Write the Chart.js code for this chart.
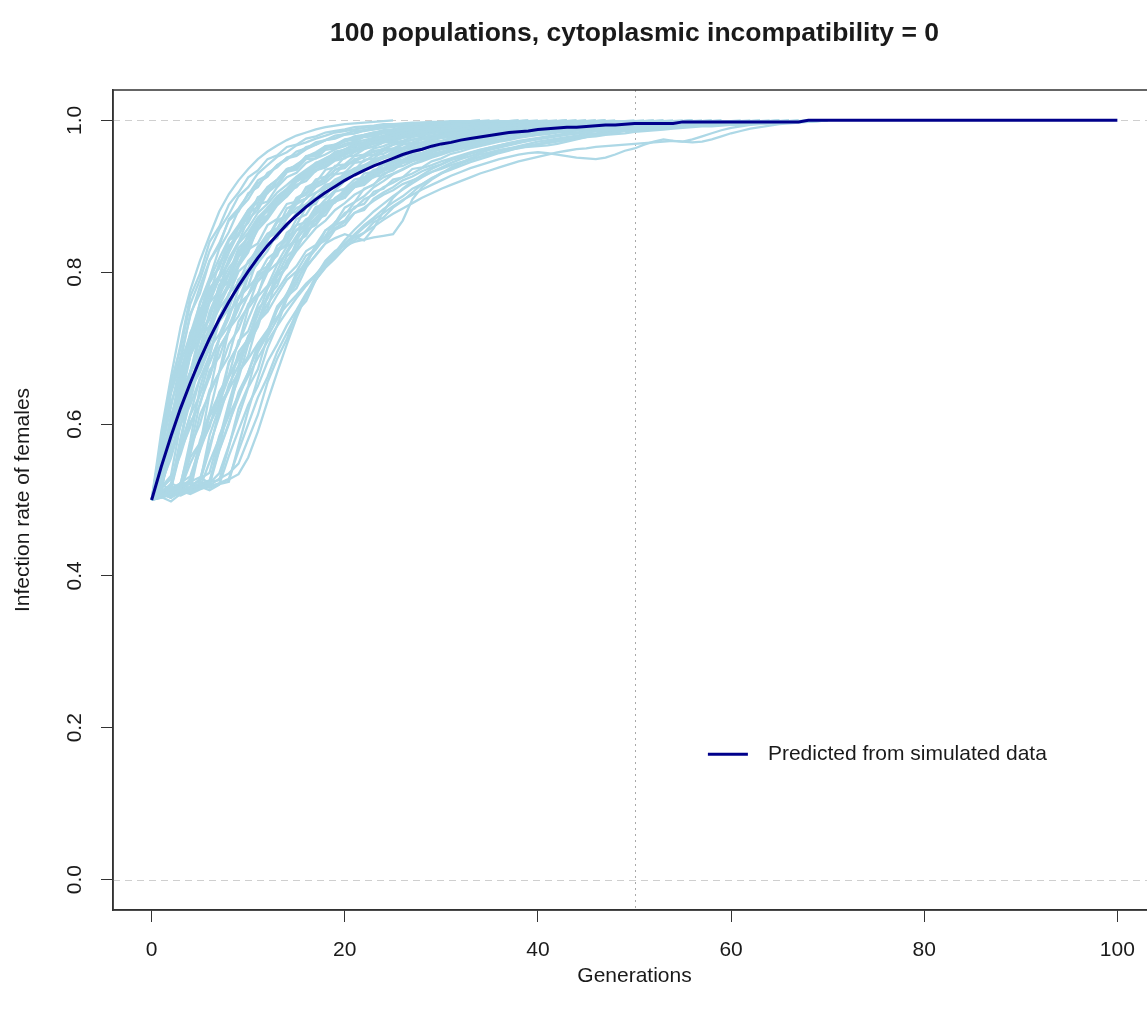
<!DOCTYPE html>
<html>
<head>
<meta charset="utf-8">
<script src="https://cdn.jsdelivr.net/npm/chart.js@4.4.1/dist/chart.umd.min.js"></script>
<style>
  html, body { margin: 0; padding: 0; background: #fff; overflow: hidden; }
  #wrap { position: relative; width: 1200px; height: 1015px; }
</style>
</head>
<body>
<div id="wrap"><canvas id="myChart" width="1200" height="1015"></canvas></div>
<script>
// infection rate of females x 1000, one value per generation starting at 0
const predicted = [
  500,544,584,621,654,685,713,738,761,782,801,819,835,849,863,875,886,896,905,913,
  921,928,934,940,945,950,955,959,962,966,969,971,974,976,978,980,982,984,985,986,
  988,989,990,991,991,992,993,994,994,995,996,996,996,996,996,998,998,998,998,998,
  998,998,998,998,998,998,998,998,1000,1000,1000,1000,1000,1000,1000,1000,1000,1000,1000,1000,
  1000,1000,1000,1000,1000,1000,1000,1000,1000,1000,1000,1000,1000,1000,1000,1000,1000,1000,1000,1000,1000
];

const pop01 = [500,590,662,728,776,815,848,880,903,921,936,949,959,967,974,980,984,988,991,993,995,996,997,998,999,1000];
const pop02 = [500,575,648,705,768,798,840,860,889,905,925,934,949,954,965,968,976,979,984,986,988,991,992,993,995,995,996,997,997,998,998,999,999,999,1000];
const pop03 = [500,570,645,690,742,781,815,838,868,880,904,912,931,938,951,955,965,968,974,977,982,983,987,988,990,992,993,994,995,996,996,997,997,998,998,999,999,999,1000];
const pop04 = [500,515,588,661,708,760,792,831,853,882,896,917,926,941,948,959,963,971,974,980,982,986,987,990,991,993,994,995,996,997,997,998,998,999,999,1000];
const pop05 = [500,560,628,665,720,745,790,805,842,850,880,885,909,914,932,935,949,950,961,963,969,972,978,979,983,984,987,988,990,991,992,993,994,995,996,996,997,997,998,998,998,999,999,999,1000];
const pop06 = [500,510,582,630,690,728,775,795,835,848,878,886,910,916,934,937,952,953,964,965,974,974,980,981,986,986,990,990,992,993,994,995,996,996,997,997,998,998,998,999,999,1000];
const pop07 = [500,548,610,640,690,716,760,775,800,822,838,866,873,890,900,915,920,934,938,947,950,958,963,965,971,972,977,979,981,983,986,987,988,990,991,992,992,993,994,995,995,996,996,997,997,997,998,998,998,999,999,999,1000];
const pop08 = [500,506,514,578,650,695,748,778,818,840,870,882,905,915,932,938,953,955,966,968,975,977,981,984,987,988,991,992,993,994,995,996,996,997,997,998,998,999,999,1000];
const pop09 = [500,512,575,615,670,700,745,768,797,826,840,860,885,890,905,920,926,940,944,953,958,961,968,970,975,977,980,982,985,986,988,990,991,992,993,994,995,995,996,996,997,997,998,998,998,999,999,999,1000];
const pop10 = [500,545,588,640,668,712,730,766,780,808,830,838,862,870,890,893,910,914,926,930,941,945,953,955,961,963,969,970,975,976,980,981,984,985,987,988,989,990,991,992,993,994,994,995,995,996,996,997,997,997,998,998,998,999,999,999,1000];
const pop11 = [500,509,520,575,640,676,718,762,786,820,835,866,875,898,907,924,929,942,946,956,958,967,969,975,976,981,983,985,987,989,990,991,992,993,994,995,996,996,997,997,998,998,998,999,999,1000];
const pop12 = [500,518,560,612,650,680,718,738,772,786,815,828,846,866,874,892,897,912,918,929,931,944,946,954,956,962,964,970,971,976,977,979,981,983,985,987,988,989,990,991,992,993,994,995,995,996,996,997,997,997,998,998,998,999,999,999,1000];
const pop13 = [500,505,510,520,578,648,690,740,770,808,826,860,872,896,905,924,930,944,947,959,961,970,971,977,978,983,984,987,989,990,992,993,994,995,995,996,997,997,998,998,998,999,999,1000];
const pop14 = [500,538,580,608,645,668,700,718,745,766,780,795,818,828,846,855,870,876,889,896,906,912,922,925,933,938,944,947,952,956,959,962,965,968,971,973,975,977,979,981,983,984,985,987,988,989,990,991,991,992,993,993,994,995,995,995,996,996,997,997,997,998,998,998,999,999,999,1000];
const pop15 = [500,505,515,572,612,660,690,735,752,790,805,834,845,868,875,896,902,918,922,935,937,949,951,960,961,968,970,975,976,980,981,983,985,987,988,990,991,992,993,994,994,995,995,996,996,997,997,997,998,998,998,999,999,999,1000];
const pop16 = [500,510,503,515,568,628,662,712,740,778,796,828,842,866,875,898,905,922,926,940,942,953,955,963,966,971,973,978,980,983,985,986,988,990,991,992,993,994,995,995,996,996,997,997,998,998,998,999,999,999,1000];
const pop17 = [500,522,555,600,625,660,680,712,730,758,770,795,805,828,835,855,860,878,881,896,900,912,915,926,928,937,940,946,950,954,957,961,963,967,969,972,974,976,978,980,982,983,985,986,987,988,989,990,991,992,992,993,994,994,995,995,996,996,996,997,997,997,998,998,998,999,999,999,1000];
const pop18 = [500,504,498,508,512,570,640,668,725,752,795,812,845,856,884,890,912,918,935,938,952,954,962,966,971,974,977,981,983,985,987,989,990,991,992,993,994,995,996,996,997,997,998,998,998,999,999,1000];
const pop19 = [500,512,520,565,596,640,662,700,722,755,770,800,808,830,842,862,866,886,890,906,910,922,925,935,937,946,948,955,957,962,965,968,971,974,976,978,980,982,984,985,987,988,989,990,991,992,992,993,994,994,995,995,996,996,997,997,997,998,998,998,999,999,999,1000];
const pop20 = [500,508,512,520,522,578,615,668,690,735,755,790,805,835,846,870,876,896,900,918,922,936,938,949,950,960,962,967,971,974,977,979,982,984,985,987,988,990,991,992,993,993,994,995,995,996,996,997,997,997,998,998,998,999,999,999,1000];
const pop21 = [500,509,515,522,570,600,645,668,705,725,758,772,800,812,834,842,862,868,888,892,908,912,924,926,937,939,948,950,957,959,962,966,969,972,974,976,979,980,982,984,985,987,988,989,990,991,992,993,993,994,995,995,995,996,996,997,997,997,998,998,998,999,999,999,1000];
const pop22 = [500,506,510,508,515,522,585,622,680,705,752,770,810,822,852,862,886,890,912,915,932,934,948,950,960,962,968,971,975,978,980,983,985,987,988,990,991,992,993,994,995,995,996,996,997,997,998,998,998,999,999,999,1000];
const pop23 = [500,505,512,517,521,524,566,618,645,695,712,752,765,800,810,840,848,870,875,895,898,916,918,932,934,944,946,955,957,962,966,969,972,975,978,980,982,984,985,987,988,989,990,991,992,993,994,994,995,995,996,996,997,997,997,998,998,998,999,999,999,1000];
const pop24 = [500,506,509,512,516,520,523,568,625,660,705,728,768,782,815,830,855,864,885,892,910,914,930,932,944,946,956,958,964,967,971,974,977,980,982,984,986,987,989,990,991,992,993,994,994,995,996,996,997,997,997,998,998,998,999,999,999,1000];
const pop25 = [500,510,515,520,525,565,600,628,662,685,715,735,758,776,795,808,828,836,855,862,878,884,896,902,912,918,925,930,937,941,946,950,954,958,961,964,967,970,972,974,976,978,980,982,983,985,986,987,988,989,990,991,992,993,993,994,994,995,995,996,996,997,997,997,998,998,998,999,999,999,1000];
const pop26 = [500,503,508,514,510,516,520,565,600,642,668,705,722,755,770,800,810,835,842,862,868,886,890,906,910,922,925,936,938,946,950,956,959,963,966,969,972,974,977,979,981,982,984,985,987,988,989,990,991,992,993,993,994,994,995,995,996,996,997,997,997,998,998,998,999,999,999,1000];
const pop27 = [500,505,510,513,517,520,524,526,570,620,650,695,718,750,772,795,815,835,848,866,875,892,900,912,920,929,935,942,948,953,958,962,966,969,972,975,978,980,982,984,985,987,988,989,990,991,992,993,994,994,995,995,996,996,997,997,997,998,998,998,999,999,999,1000];
const pop28 = [500,504,507,510,513,516,518,521,524,572,618,660,700,730,765,785,815,830,855,865,885,892,910,915,930,934,944,948,956,959,965,967,971,974,977,980,982,984,986,987,989,990,991,992,993,994,994,995,996,996,997,997,997,998,998,998,999,999,999,1000];
const pop29 = [500,505,508,510,512,515,518,522,527,534,556,590,630,668,705,740,770,795,815,828,835,840,843,846,848,850,868,896,912,922,930,938,944,950,955,958,961,963,964,965,966,967,969,972,975,978,981,983,985,987,989,990,991,992,993,994,995,996,996,997,997,998,998,999,999,1000];
const pop30 = [500,507,512,508,515,518,513,520,558,592,625,650,682,705,730,750,772,790,808,822,838,850,862,872,883,892,900,910,916,924,930,935,940,945,949,953,957,960,964,967,969,972,974,976,978,980,981,983,984,986,987,988,989,990,991,992,992,993,994,994,995,995,996,996,997,997,998,998,999,1000];
const pop31 = [500,504,508,506,512,516,550,581,611,638,663,687,709,729,748,766,782,797,812,825,837,848,859,869,878,887,895,902,909,915,921,927,932,937,941,945,949,952,955,957,958,957,955,953,951,950,949,951,955,960,963,968,972,975,973,972,975,979,983,987,990,992,994,995,996,997,998,999,1000];
const pop32 = [500,506,510,515,548,575,600,625,646,668,686,706,724,741,756,770,785,797,810,821,832,842,852,860,869,877,884,891,898,904,910,915,920,925,930,934,938,942,946,949,952,955,958,960,962,963,965,966,967,968,969,970,971,972,973,972,971,972,975,979,983,986,989,991,993,995,996,997,998,999,1000];
const pop33 = [500,508,503,510,515,520,516,522,528,565,600,635,662,695,720,745,768,790,810,826,842,856,868,880,890,900,909,917,925,932,938,944,949,953,957,961,964,967,970,973,975,977,979,981,983,984,986,987,988,989,990,991,992,993,994,994,995,995,996,996,997,997,998,998,999,999,1000];
const pop34 = [500,503,507,512,508,514,519,580,628,672,712,744,778,802,828,848,866,882,896,908,920,929,938,945,951,957,962,967,971,974,977,980,982,984,986,988,989,990,991,992,993,994,995,996,996,997,997,998,998,999,999,1000];
const pop35 = [500,568,622,680,718,758,790,818,844,862,882,896,912,922,933,942,950,957,963,968,973,977,980,983,985,987,989,990,992,993,994,995,996,996,997,997,998,998,999,999,1000];
const pop36 = [500,520,590,642,690,725,765,792,815,840,858,878,890,905,915,926,935,944,950,957,962,967,971,975,978,981,983,985,987,989,990,991,992,993,994,995,996,996,997,997,998,998,999,999,1000];
const pop37 = [500,552,605,660,690,735,760,792,812,838,852,872,885,900,910,922,930,940,945,953,958,963,967,971,975,978,980,983,985,987,988,990,991,992,993,994,995,995,996,996,997,997,998,998,999,999,1000];
const pop38 = [500,510,518,582,630,682,718,756,782,812,832,856,870,888,900,914,924,934,941,948,954,960,965,969,972,976,979,981,983,985,987,988,990,991,992,993,994,994,995,996,996,997,997,998,998,999,999,1000];
const pop39 = [500,548,600,672,705,751,770,812,830,858,872,899,904,921,936,939,952,958,966,965,973,979,981,984,983,988,990,991,993,992,995,996,996,997,998,998,999,999,1000];
const pop40 = [500,541,612,645,700,738,772,790,783,811,840,868,872,893,907,912,926,935,941,950,956,959,965,970,973,976,981,982,985,987,988,990,992,992,994,995,996,996,997,998,998,999,999,1000];
const pop41 = [500,522,566,598,651,672,705,742,756,790,798,823,845,852,871,885,889,904,915,918,929,937,941,948,953,955,962,964,968,972,973,977,979,981,983,985,986,988,989,990,991,992,993,994,995,995,996,997,997,998,998,999,999,1000];
const pop42 = [500,508,522,516,560,612,640,701,722,768,782,819,838,845,872,890,897,915,921,935,941,947,955,958,963,968,972,974,978,980,983,985,987,988,990,991,992,993,994,995,996,996,997,998,998,999,999,1000];
const pop43 = [500,515,528,560,602,625,671,688,725,742,770,788,801,826,838,856,862,879,892,896,908,917,921,931,935,940,946,951,953,958,962,964,968,971,973,976,978,980,982,983,985,986,988,989,990,991,992,993,994,994,995,996,996,997,997,998,998,999,999,1000];
const pop44 = [500,512,505,523,531,570,596,642,665,710,722,757,780,795,821,832,856,862,880,893,898,912,918,927,935,938,946,952,955,960,963,967,970,973,975,977,979,981,983,985,986,987,989,990,991,992,993,994,994,995,996,996,997,997,998,998,999,999,1000];
const pop45 = [500,506,512,521,515,528,536,584,615,668,690,735,752,795,806,838,851,870,883,898,906,918,925,931,941,946,952,958,961,966,970,973,976,979,981,983,985,987,988,990,991,992,993,994,995,995,996,997,997,998,998,999,999,1000];
const pop46 = [500,510,516,512,524,530,522,535,572,610,648,672,715,738,768,779,806,823,838,856,862,878,882,897,905,912,921,926,933,938,942,948,951,956,959,963,966,968,971,973,976,978,980,982,983,985,986,987,988,990,991,992,992,993,994,995,995,996,996,997,997,998,998,999,999,1000];
const pop47 = [500,562,640,682,745,772,815,835,870,884,902,921,928,941,950,953,962,968,974,976,981,983,986,988,990,991,993,994,995,996,996,997,998,998,999,999,1000];
const pop48 = [500,555,603,665,692,744,779,795,826,851,865,889,893,912,925,931,944,950,955,962,966,971,974,977,980,983,985,987,989,990,991,993,994,994,995,996,997,997,998,998,999,999,1000];
const pop49 = [500,528,581,640,668,721,740,782,806,822,850,866,884,897,902,919,928,933,946,948,957,962,965,970,972,976,979,981,984,985,987,989,990,991,992,993,994,995,995,996,997,997,998,998,999,999,1000];
const pop50 = [500,517,532,600,641,702,725,775,789,827,846,868,882,899,909,925,933,941,950,955,962,965,971,973,977,980,983,985,987,989,990,991,993,994,994,995,996,997,997,998,998,999,999,1000];
const pop51 = [500,505,514,509,518,527,572,610,652,677,716,735,770,788,808,828,843,858,868,882,891,902,909,916,925,930,936,942,946,951,955,959,962,965,968,971,973,976,978,980,981,983,985,986,987,988,990,991,992,992,993,994,995,995,996,996,997,997,998,998,999,999,1000];
const pop52 = [500,511,506,519,556,575,612,640,662,690,708,735,748,770,790,801,822,830,846,858,866,878,885,894,902,908,916,921,926,932,936,941,945,948,952,955,958,961,963,966,968,970,972,974,976,978,979,981,982,983,985,986,987,988,989,990,991,992,992,993,994,994,995,996,996,997,997,998,998,999,1000];
const pop53 = [500,535,592,622,668,690,728,752,770,801,812,832,851,858,876,880,898,905,911,922,928,933,941,944,951,954,959,962,966,969,972,974,976,979,981,982,984,985,987,988,989,990,991,992,993,994,994,995,996,996,997,997,998,998,999,999,1000];
const pop54 = [500,525,575,630,662,716,738,783,798,832,845,870,880,898,906,920,928,938,944,952,957,962,966,970,974,977,980,982,984,986,988,989,990,992,993,994,994,995,996,997,997,998,998,999,999,1000];
const pop55 = [500,578,655,700,758,790,828,856,876,900,912,930,941,952,958,967,971,976,980,984,986,988,990,992,993,994,995,996,997,997,998,998,999,999,1000];
const pop56 = [500,508,503,515,512,522,519,528,535,548,580,612,655,686,712,748,762,790,806,818,832,846,852,866,872,885,894,905,916,923,931,936,943,948,952,956,960,963,966,969,972,974,976,978,980,982,983,985,986,988,989,990,991,992,993,993,994,995,995,996,997,997,998,998,999,999,1000];
const pop57 = [500,509,518,512,528,566,610,632,682,705,738,768,782,810,825,845,858,872,884,896,903,914,920,928,935,941,946,951,955,959,963,966,969,972,975,977,979,981,983,985,986,988,989,990,991,992,993,994,994,995,996,996,997,997,998,998,999,999,1000];
const pop58 = [500,520,514,565,612,638,682,712,748,765,795,812,828,852,860,878,890,898,910,916,926,932,938,944,950,954,958,962,966,969,972,974,977,979,981,983,984,986,987,988,990,991,992,993,993,994,995,995,996,997,997,998,998,999,999,1000];
const pop59 = [500,532,602,648,712,741,786,808,842,858,882,892,912,922,936,940,952,956,964,967,972,976,979,982,985,987,989,990,992,993,994,995,996,996,997,998,998,999,999,1000];
const pop60 = [500,504,510,507,515,521,526,566,602,635,668,700,720,752,768,790,808,822,838,845,850,846,842,858,880,898,910,920,928,936,942,948,953,957,961,964,967,970,973,975,977,979,981,983,984,986,987,988,989,990,991,992,993,994,994,995,995,996,996,997,997,998,998,999,999,1000];

const populations = [
  pop01, pop02, pop03, pop04, pop05, pop06, pop07, pop08, pop09, pop10,
  pop11, pop12, pop13, pop14, pop15, pop16, pop17, pop18, pop19, pop20,
  pop21, pop22, pop23, pop24, pop25, pop26, pop27, pop28, pop29, pop30,
  pop31, pop32, pop33, pop34, pop35, pop36, pop37, pop38, pop39, pop40,
  pop41, pop42, pop43, pop44, pop45, pop46, pop47, pop48, pop49, pop50,
  pop51, pop52, pop53, pop54, pop55, pop56, pop57, pop58, pop59, pop60
];

const xTicks = [0, 20, 40, 60, 80, 100];
const yTicks = [0, 0.2, 0.4, 0.6, 0.8, 1.0];
const hLines = [0, 1];
const vLines = [50];

const titleText = "100 populations, cytoplasmic incompatibility = 0";
const xTitle = "Generations";
const yTitle = "Infection rate of females";
const legendText = "Predicted from simulated data";

const FONT = "'Liberation Sans', Arial, sans-serif";
const LIGHT = "#add8e6";
const NAVY = "#00008b";

window.onload = function() {
  createChart();
};

function toPoints(values) {
  return values.map((v, g) => ({ x: g, y: v / 1000 }));
}

const decorations = {
  id: "decorations",
  beforeDatasetsDraw(chart) {
    const { ctx, chartArea: a, scales } = chart;
    ctx.save();
    ctx.lineWidth = 1;
    ctx.strokeStyle = "#cfcfcf";
    ctx.setLineDash([7, 5]);
    hLines.forEach(v => {
      const py = Math.round(scales.y.getPixelForValue(v)) + 0.5;
      ctx.beginPath();
      ctx.moveTo(a.left, py);
      ctx.lineTo(a.right, py);
      ctx.stroke();
    });
    ctx.strokeStyle = "#a9a9a9";
    ctx.setLineDash([2, 4]);
    vLines.forEach(v => {
      const px = Math.round(scales.x.getPixelForValue(v)) + 0.5;
      ctx.beginPath();
      ctx.moveTo(px, a.top);
      ctx.lineTo(px, a.bottom);
      ctx.stroke();
    });
    ctx.restore();
  },
  afterDraw(chart) {
    const { ctx, chartArea: a, scales } = chart;
    const midX = (a.left + a.right) / 2;
    ctx.save();

    // box
    ctx.strokeStyle = "#333";
    ctx.lineWidth = 1.5;
    ctx.strokeRect(a.left, a.top, a.right - a.left, a.bottom - a.top);

    ctx.fillStyle = "#1a1a1a";

    // title
    ctx.font = "bold 26.5px " + FONT;
    ctx.textAlign = "center";
    ctx.textBaseline = "alphabetic";
    ctx.fillText(titleText, midX, 41);

    // x title
    ctx.font = "21px " + FONT;
    ctx.textBaseline = "middle";
    ctx.fillText(xTitle, midX, 976);

    // y tick labels, rotated like R
    yTicks.forEach(v => {
      const py = scales.y.getPixelForValue(v);
      ctx.save();
      ctx.translate(75, py);
      ctx.rotate(-Math.PI / 2);
      ctx.fillText(v.toFixed(1), 0, 0);
      ctx.restore();
    });

    // y title
    ctx.save();
    ctx.translate(23, (a.top + a.bottom) / 2);
    ctx.rotate(-Math.PI / 2);
    ctx.fillText(yTitle, 0, 0);
    ctx.restore();

    // legend
    const lx = scales.x.getPixelForValue(57.6);
    const ly = scales.y.getPixelForValue(0.165);
    ctx.strokeStyle = NAVY;
    ctx.lineWidth = 3;
    ctx.beginPath();
    ctx.moveTo(lx, ly);
    ctx.lineTo(lx + 40, ly);
    ctx.stroke();
    ctx.textAlign = "left";
    ctx.fillText(legendText, lx + 60, ly);

    ctx.restore();
  }
};

function createChart() {
  const ctx = document.getElementById("myChart").getContext("2d");

  const datasets = [
    {
      label: legendText,
      data: toPoints(predicted),
      borderColor: NAVY,
      borderWidth: 3,
      pointRadius: 0,
      order: 0
    }
  ];
  populations.forEach((pop, i) => {
    datasets.push({
      label: "Population " + (i + 1),
      data: toPoints(pop),
      borderColor: LIGHT,
      borderWidth: 2.3,
      pointRadius: 0,
      order: 1
    });
  });

  new Chart(ctx, {
    type: "line",
    data: { datasets: datasets },
    plugins: [decorations],
    options: {
      responsive: false,
      animation: false,
      events: [],
      layout: { padding: { top: 90, right: 44, left: 0, bottom: 0 } },
      elements: { line: { tension: 0, fill: false } },
      plugins: {
        legend: { display: false },
        title: { display: false },
        tooltip: { enabled: false }
      },
      scales: {
        x: {
          type: "linear",
          min: -4,
          max: 104,
          afterBuildTicks: scale => {
            scale.ticks = xTicks.map(v => ({ value: v }));
          },
          afterFit: scale => {
            scale.height = 105;
          },
          ticks: {
            color: "#1a1a1a",
            font: { family: FONT, size: 21 },
            padding: 16,
            maxRotation: 0,
            autoSkip: false
          },
          grid: {
            drawOnChartArea: false,
            drawTicks: true,
            tickLength: 12,
            color: "#333",
            lineWidth: 1
          },
          border: { display: true, color: "#333", width: 1.5 }
        },
        y: {
          type: "linear",
          min: -0.04,
          max: 1.04,
          afterBuildTicks: scale => {
            scale.ticks = yTicks.map(v => ({ value: v }));
          },
          afterFit: scale => {
            scale.width = 113;
          },
          ticks: { display: false },
          grid: {
            drawOnChartArea: false,
            drawTicks: true,
            tickLength: 12,
            color: "#333",
            lineWidth: 1
          },
          border: { display: true, color: "#333", width: 1.5 }
        }
      }
    }
  });
}
</script>
</body>
</html>
